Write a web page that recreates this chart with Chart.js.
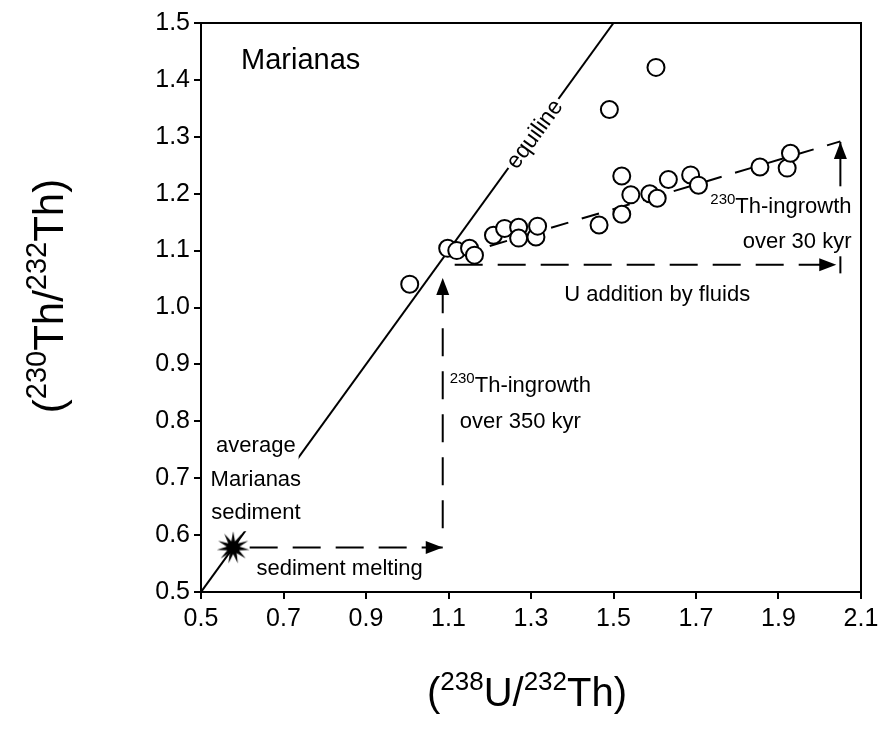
<!DOCTYPE html>
<html>
<head>
<meta charset="utf-8">
<title>Marianas U-Th</title>
<script src="https://cdn.jsdelivr.net/npm/chart.js@4.4.0/dist/chart.umd.min.js"></script>
<style>
  html, body { margin: 0; padding: 0; background: #fff; }
  #wrap { width: 879px; height: 730px; }
</style>
</head>
<body>
<div id="wrap"><canvas id="chart" width="879" height="730"></canvas></div>
<script>
const FONT = '"Liberation Sans", Arial, Helvetica, sans-serif';

// tick labels
const xTicks = [0.5, 0.7, 0.9, 1.1, 1.3, 1.5, 1.7, 1.9, 2.1];
const yTicks = [0.5, 0.6, 0.7, 0.8, 0.9, 1.0, 1.1, 1.2, 1.3, 1.4, 1.5];

// Marianas lavas, (238U/232Th) vs (230Th/232Th)
const lavaU = [1.006, 1.098, 1.120, 1.151, 1.163, 1.209, 1.236, 1.270, 1.270, 1.312, 1.316,
  1.465, 1.490, 1.520, 1.520, 1.542, 1.588, 1.603, 1.606, 1.633, 1.687, 1.706, 1.855, 1.921, 1.929];
const lavaTh = [1.041, 1.104, 1.100, 1.104, 1.092, 1.127, 1.139, 1.141, 1.122, 1.124, 1.143,
  1.145, 1.348, 1.164, 1.231, 1.198, 1.200, 1.422, 1.192, 1.225, 1.233, 1.215, 1.247, 1.245, 1.271];

// average Marianas sediment
const sedimentU = [0.578];
const sedimentTh = [0.578];

// equiline and the trend through the lavas
const equilineU = [0.5, 1.5];
const equilineTh = [0.5, 1.5];
const trendU = [1.2, 2.05];
const trendTh = [1.108, 1.292];

// arrows: [u0, th0, u1, th1]
const meltingArrow = [0.618, 0.578, 1.086, 0.578];
const ingrowth350Arrow = [1.086, 0.612, 1.086, 1.052];
const fluidArrow = [1.115, 1.075, 2.04, 1.075];
const ingrowth30Arrow = [2.05, 1.213, 2.05, 1.291];
const fluidEndBar = [2.05, 1.060, 2.05, 1.090];

// text notes placed in data units; parts marked true are superscript
const notes = [
  { parts: [['Marianas']], u: 0.597, th: 1.419, size: 29, align: 'left' },
  { parts: [['equiline']], u: 1.306, th: 1.306, size: 23, align: 'center', rotate: -54, mask: true },
  { parts: [['230', true], ['Th-ingrowth']], u: 2.077, th: 1.166, size: 22, align: 'right' },
  { parts: [['over 30 kyr']], u: 2.077, th: 1.105, size: 22, align: 'right' },
  { parts: [['U addition by fluids']], u: 1.606, th: 1.012, size: 22, align: 'center' },
  { parts: [['230', true], ['Th-ingrowth']], u: 1.274, th: 0.851, size: 22, align: 'center' },
  { parts: [['over 350 kyr']], u: 1.274, th: 0.788, size: 22, align: 'center' },
  { parts: [['average']], u: 0.633, th: 0.746, size: 22, align: 'center', mask: true },
  { parts: [['Marianas']], u: 0.633, th: 0.687, size: 22, align: 'center', mask: true },
  { parts: [['sediment']], u: 0.633, th: 0.628, size: 22, align: 'center', mask: true },
  { parts: [['sediment melting']], u: 0.836, th: 0.530, size: 22, align: 'center' },
];

function toPoints(us, ths) {
  return us.map((u, i) => ({ x: u, y: ths[i] }));
}

function segment(a) {
  return [{ x: a[0], y: a[1] }, { x: a[2], y: a[3] }];
}

function makeStar() {
  const c = document.createElement('canvas');
  c.width = 34;
  c.height = 34;
  const g = c.getContext('2d');
  g.beginPath();
  const spikes = 11;
  for (let i = 0; i < spikes * 2; i++) {
    const r = i % 2 === 0 ? 16.5 : 6.5;
    const a = (Math.PI * i) / spikes - Math.PI / 2;
    const px = 17 + Math.cos(a) * r;
    const py = 17 + Math.sin(a) * r;
    if (i === 0) g.moveTo(px, py);
    else g.lineTo(px, py);
  }
  g.closePath();
  g.fillStyle = '#000';
  g.fill();
  return c;
}

function richWidth(ctx, parts, size, supRatio) {
  let w = 0;
  parts.forEach(([t, sup]) => {
    ctx.font = `${sup ? Math.round(size * supRatio) : size}px ${FONT}`;
    w += ctx.measureText(t).width;
  });
  return w;
}

function drawRich(ctx, parts, x, y, align, size, supRatio = 0.7) {
  const w = richWidth(ctx, parts, size, supRatio);
  let cx = align === 'center' ? x - w / 2 : align === 'right' ? x - w : x;
  ctx.textAlign = 'left';
  ctx.textBaseline = 'alphabetic';
  parts.forEach(([t, sup]) => {
    ctx.font = `${sup ? Math.round(size * supRatio) : size}px ${FONT}`;
    ctx.fillText(t, cx, sup ? y - size * 0.4 : y);
    cx += ctx.measureText(t).width;
  });
  return w;
}

const arrowSets = ['melting', 'ingrowth350', 'fluid', 'ingrowth30'];

const overlay = {
  id: 'overlay',
  afterDatasetsDraw(chart) {
    const { ctx, chartArea, scales } = chart;
    ctx.save();

    // frame on top and right
    ctx.strokeStyle = '#000';
    ctx.lineWidth = 2;
    ctx.beginPath();
    ctx.moveTo(chartArea.left, chartArea.top);
    ctx.lineTo(chartArea.right, chartArea.top);
    ctx.lineTo(chartArea.right, chartArea.bottom);
    ctx.stroke();

    // arrow heads at the end of each arrow dataset
    chart.data.datasets.forEach((ds, i) => {
      if (!arrowSets.includes(ds.label)) return;
      const pts = chart.getDatasetMeta(i).data;
      const a = pts[pts.length - 2];
      const b = pts[pts.length - 1];
      const ang = Math.atan2(b.y - a.y, b.x - a.x);
      const len = 17;
      const half = 6.5;
      ctx.save();
      ctx.translate(b.x, b.y);
      ctx.rotate(ang);
      ctx.fillStyle = '#000';
      ctx.beginPath();
      ctx.moveTo(0, 0);
      ctx.lineTo(-len, -half);
      ctx.lineTo(-len, half);
      ctx.closePath();
      ctx.fill();
      ctx.restore();
    });

    // notes
    ctx.fillStyle = '#000';
    notes.forEach((n) => {
      const x = scales.x.getPixelForValue(n.u);
      const y = scales.y.getPixelForValue(n.th);
      ctx.save();
      ctx.translate(x, y);
      if (n.rotate) ctx.rotate((n.rotate * Math.PI) / 180);
      const baseY = n.rotate ? n.size * 0.36 : 0;
      if (n.mask) {
        const w = richWidth(ctx, n.parts, n.size, 0.7);
        const x0 = n.align === 'center' ? -w / 2 : n.align === 'right' ? -w : 0;
        ctx.fillStyle = '#fff';
        ctx.fillRect(x0 - 3, baseY - n.size * 1.1, w + 6, n.size * 1.65);
        ctx.fillStyle = '#000';
      }
      drawRich(ctx, n.parts, 0, baseY, n.align, n.size);
      ctx.restore();
    });

    // axis titles
    const midX = (chartArea.left + chartArea.right) / 2;
    drawRich(ctx, [['('], ['238', true], ['U/'], ['232', true], ['Th)']], midX - 4, 706, 'center', 40, 0.66);
    ctx.save();
    ctx.translate(63, 296);
    ctx.rotate(-Math.PI / 2);
    drawRich(ctx, [['('], ['230', true], ['Th/'], ['232', true], ['Th)']], 0, 0, 'center', 42, 0.68);
    ctx.restore();

    ctx.restore();
  },
};

function lineSet(label, data, dash, order) {
  return {
    label,
    type: 'line',
    data,
    showLine: true,
    borderColor: '#000',
    borderWidth: 2,
    borderDash: dash,
    pointRadius: 0,
    fill: false,
    tension: 0,
    order,
  };
}

const ctx = document.getElementById('chart');
new Chart(ctx, {
  type: 'scatter',
  data: {
    datasets: [
      {
        label: 'lavas',
        data: toPoints(lavaU, lavaTh),
        pointStyle: 'circle',
        pointRadius: 8.5,
        borderWidth: 2,
        borderColor: '#000',
        backgroundColor: '#fff',
        order: 0,
      },
      {
        label: 'sediment',
        data: toPoints(sedimentU, sedimentTh),
        pointStyle: makeStar(),
        pointRadius: 17,
        order: 0,
      },
      lineSet('equiline', toPoints(equilineU, equilineTh), [], 2),
      lineSet('trend', toPoints(trendU, trendTh), [18, 14], 2),
      lineSet('melting', segment(meltingArrow), [28, 15], 2),
      lineSet('ingrowth350', segment(ingrowth350Arrow), [28, 15], 2),
      lineSet('fluid', segment(fluidArrow), [28, 15], 2),
      lineSet('ingrowth30', segment(ingrowth30Arrow), [], 2),
      lineSet('fluidEnd', segment(fluidEndBar), [], 2),
    ],
  },
  options: {
    responsive: false,
    animation: false,
    layout: { padding: { left: 0, top: 23, right: 17, bottom: 0 } },
    plugins: {
      legend: { display: false },
      tooltip: { enabled: false },
    },
    scales: {
      x: {
        type: 'linear',
        min: 0.5,
        max: 2.1,
        afterBuildTicks: (scale) => { scale.ticks = xTicks.map((v) => ({ value: v })); },
        afterFit: (scale) => {
          scale.height = 138;
          scale.paddingLeft = 0;
          scale.paddingRight = 0;
        },
        ticks: {
          color: '#000',
          font: { family: FONT, size: 25 },
          padding: 5,
          maxRotation: 0,
          autoSkip: false,
          callback: (v) => Number(v).toFixed(1),
        },
        grid: { drawOnChartArea: false, drawTicks: true, tickLength: 7, color: '#000', lineWidth: 2 },
        border: { display: true, color: '#000', width: 2 },
      },
      y: {
        type: 'linear',
        min: 0.5,
        max: 1.5,
        afterBuildTicks: (scale) => { scale.ticks = yTicks.map((v) => ({ value: v })); },
        afterFit: (scale) => {
          scale.width = 201;
          scale.paddingTop = 0;
          scale.paddingBottom = 0;
        },
        ticks: {
          color: '#000',
          font: { family: FONT, size: 25 },
          padding: 4,
          autoSkip: false,
          callback: (v) => Number(v).toFixed(1),
        },
        grid: { drawOnChartArea: false, drawTicks: true, tickLength: 7, color: '#000', lineWidth: 2 },
        border: { display: true, color: '#000', width: 2 },
      },
    },
  },
  plugins: [overlay],
});
</script>
</body>
</html>
